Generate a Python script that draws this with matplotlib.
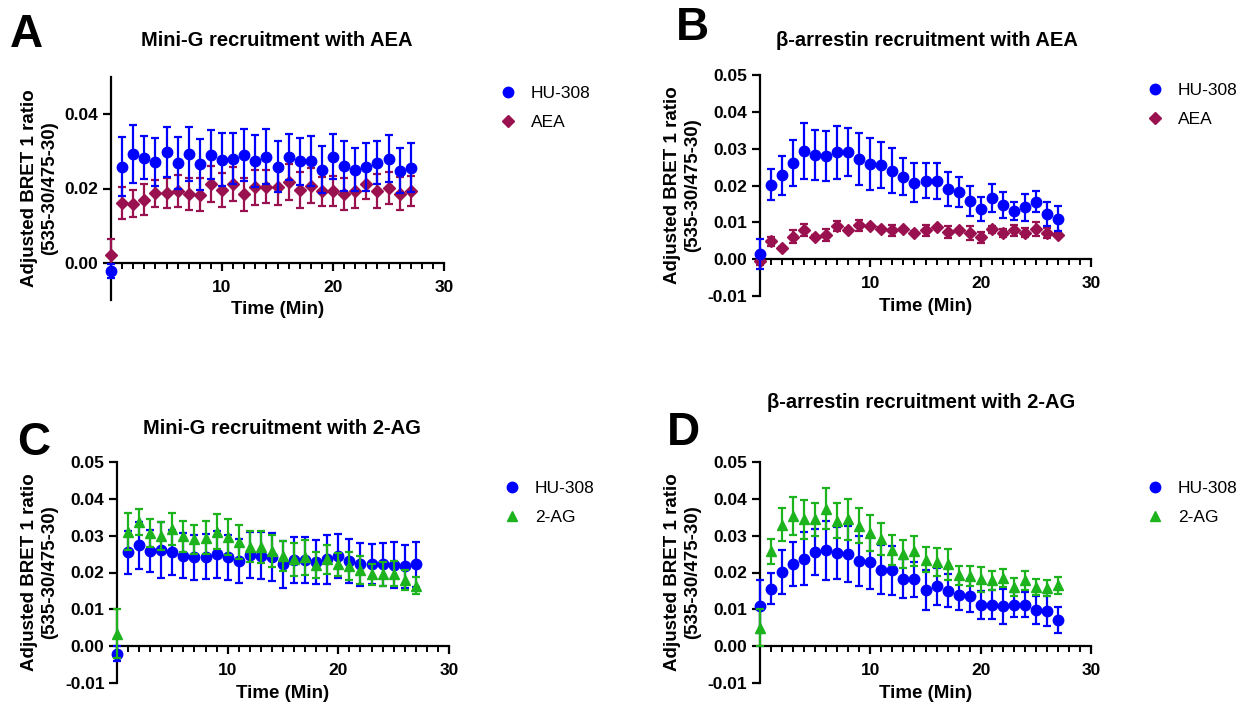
import matplotlib
matplotlib.use("Agg")
import matplotlib.pyplot as plt
from matplotlib.ticker import MultipleLocator, FixedLocator
import numpy as np

plt.rcParams['font.family'] = ['Liberation Sans', 'DejaVu Sans']

time_min = list(range(28))

# Panel A: Mini-G recruitment with AEA
a_hu_mean = [-0.0022, 0.0259, 0.0293, 0.0283, 0.0272, 0.0299, 0.0269, 0.0293, 0.0265, 0.0291, 0.0278, 0.0280, 0.0290, 0.0275,
             0.0286, 0.0259, 0.0284, 0.0273, 0.0274, 0.0251, 0.0286, 0.0261, 0.0251, 0.0257, 0.0269, 0.0280, 0.0248, 0.0256]
a_hu_err = [0.0020, 0.0080, 0.0079, 0.0057, 0.0065, 0.0067, 0.0070, 0.0072, 0.0068, 0.0066, 0.0071, 0.0068, 0.0069, 0.0070,
            0.0073, 0.0069, 0.0062, 0.0063, 0.0066, 0.0064, 0.0061, 0.0068, 0.0059, 0.0065, 0.0058, 0.0063, 0.0061, 0.0066]
a_aea_mean = [0.0020, 0.0161, 0.0159, 0.0170, 0.0187, 0.0188, 0.0193, 0.0186, 0.0183, 0.0213, 0.0195, 0.0212, 0.0184, 0.0203,
              0.0205, 0.0204, 0.0218, 0.0196, 0.0207, 0.0192, 0.0194, 0.0186, 0.0194, 0.0213, 0.0193, 0.0201, 0.0186, 0.0194]
a_aea_err = [0.0045, 0.0044, 0.0036, 0.0041, 0.0037, 0.0040, 0.0042, 0.0043, 0.0044, 0.0048, 0.0046, 0.0046, 0.0044, 0.0047,
             0.0044, 0.0049, 0.0048, 0.0048, 0.0047, 0.0040, 0.0040, 0.0043, 0.0047, 0.0040, 0.0045, 0.0044, 0.0044, 0.0040]

# Panel B: beta-arrestin recruitment with AEA
b_hu_mean = [0.0014, 0.0202, 0.0228, 0.0262, 0.0294, 0.0283, 0.0280, 0.0290, 0.0291, 0.0272, 0.0259, 0.0255, 0.0240, 0.0224,
             0.0208, 0.0213, 0.0213, 0.0190, 0.0182, 0.0158, 0.0137, 0.0166, 0.0147, 0.0131, 0.0141, 0.0156, 0.0123, 0.0110]
b_hu_err = [0.0042, 0.0042, 0.0053, 0.0062, 0.0077, 0.0069, 0.0069, 0.0071, 0.0064, 0.0071, 0.0070, 0.0062, 0.0061, 0.0051,
            0.0053, 0.0047, 0.0049, 0.0047, 0.0041, 0.0040, 0.0033, 0.0037, 0.0034, 0.0024, 0.0037, 0.0029, 0.0032, 0.0033]
b_aea_mean = [-0.0005, 0.0048, 0.0030, 0.0061, 0.0080, 0.0061, 0.0066, 0.0090, 0.0080, 0.0092, 0.0090, 0.0083, 0.0078, 0.0081,
              0.0072, 0.0078, 0.0086, 0.0074, 0.0078, 0.0071, 0.0059, 0.0081, 0.0071, 0.0078, 0.0072, 0.0082, 0.0071, 0.0066]
b_aea_err = [0.0010, 0.0013, 0.0004, 0.0018, 0.0016, 0.0004, 0.0016, 0.0014, 0.0004, 0.0015, 0.0004, 0.0004, 0.0014, 0.0004,
             0.0004, 0.0016, 0.0004, 0.0017, 0.0004, 0.0020, 0.0014, 0.0010, 0.0012, 0.0014, 0.0013, 0.0018, 0.0013, 0.0004]

# Panel C: Mini-G recruitment with 2-AG
c_hu_mean = [-0.0020, 0.0255, 0.0274, 0.0259, 0.0261, 0.0255, 0.0246, 0.0241, 0.0243, 0.0249, 0.0241, 0.0232, 0.0247, 0.0245,
             0.0241, 0.0222, 0.0234, 0.0234, 0.0229, 0.0236, 0.0245, 0.0232, 0.0222, 0.0223, 0.0222, 0.0220, 0.0217, 0.0222]
c_hu_err = [0.0020, 0.0058, 0.0064, 0.0057, 0.0076, 0.0061, 0.0061, 0.0061, 0.0061, 0.0065, 0.0061, 0.0060, 0.0063, 0.0064,
            0.0065, 0.0063, 0.0063, 0.0063, 0.0059, 0.0067, 0.0060, 0.0060, 0.0059, 0.0054, 0.0059, 0.0063, 0.0059, 0.0062]
c_ag_mean = [0.0034, 0.0311, 0.0338, 0.0308, 0.0299, 0.0318, 0.0299, 0.0290, 0.0295, 0.0311, 0.0297, 0.0284, 0.0270, 0.0270,
             0.0259, 0.0245, 0.0236, 0.0241, 0.0220, 0.0236, 0.0222, 0.0218, 0.0207, 0.0195, 0.0196, 0.0197, 0.0179, 0.0164]
c_ag_err = [0.0066, 0.0050, 0.0035, 0.0038, 0.0039, 0.0043, 0.0042, 0.0039, 0.0044, 0.0048, 0.0049, 0.0046, 0.0042, 0.0043,
            0.0044, 0.0040, 0.0045, 0.0047, 0.0035, 0.0039, 0.0032, 0.0038, 0.0039, 0.0029, 0.0033, 0.0035, 0.0027, 0.0023]

# Panel D: beta-arrestin recruitment with 2-AG
d_hu_mean = [0.0108, 0.0156, 0.0201, 0.0223, 0.0237, 0.0255, 0.0260, 0.0253, 0.0249, 0.0231, 0.0228, 0.0208, 0.0206, 0.0183,
             0.0181, 0.0153, 0.0163, 0.0151, 0.0140, 0.0137, 0.0111, 0.0113, 0.0108, 0.0113, 0.0113, 0.0097, 0.0095, 0.0071]
d_hu_err = [0.0071, 0.0042, 0.0060, 0.0061, 0.0072, 0.0063, 0.0080, 0.0071, 0.0076, 0.0068, 0.0072, 0.0066, 0.0066, 0.0053,
            0.0047, 0.0054, 0.0050, 0.0044, 0.0041, 0.0044, 0.0038, 0.0040, 0.0047, 0.0035, 0.0034, 0.0038, 0.0041, 0.0034]
d_ag_mean = [0.0050, 0.0258, 0.0330, 0.0353, 0.0344, 0.0344, 0.0373, 0.0341, 0.0344, 0.0327, 0.0307, 0.0291, 0.0262, 0.0250,
             0.0258, 0.0235, 0.0228, 0.0222, 0.0192, 0.0190, 0.0181, 0.0179, 0.0185, 0.0161, 0.0179, 0.0161, 0.0158, 0.0165]
d_ag_err = [0.0050, 0.0034, 0.0044, 0.0051, 0.0052, 0.0045, 0.0056, 0.0047, 0.0056, 0.0048, 0.0048, 0.0044, 0.0041, 0.0038,
            0.0041, 0.0034, 0.0038, 0.0042, 0.0026, 0.0028, 0.0033, 0.0026, 0.0025, 0.0024, 0.0026, 0.0022, 0.0022, 0.0024]

BLUE = '#0000FF'
PURPLE = '#9A1150'
GREEN = '#1DB31D'

W, H = 1253, 704
fig = plt.figure(figsize=(W / 100, H / 100), dpi=100)


def px_axes(x0, x1, y0, y1):
    return fig.add_axes([x0 / W, 1 - y1 / H, (x1 - x0) / W, (y1 - y0) / H])


def series(ax, mean, err, color, marker, ms, label, z):
    c = ax.errorbar(time_min, mean, yerr=err, fmt=marker, color=color, ms=ms, mec=color,
                    elinewidth=1.6, capsize=3.0, capthick=1.6, label=label, zorder=z)
    for art in c.get_children():
        art.set_clip_on(False)
    c.lines[0].set_clip_on(False)
    return c


def style(ax, ylabels_full):
    ax.set_xlim(0, 30)
    ax.set_ylim(-0.01, 0.05)
    for s in ['top', 'right']:
        ax.spines[s].set_visible(False)
    ax.spines['bottom'].set_position(('data', 0))
    for s in ['left', 'bottom']:
        ax.spines[s].set_linewidth(1.6)
    ax.xaxis.set_major_locator(FixedLocator([10, 20, 30]))
    ax.xaxis.set_minor_locator(MultipleLocator(1))
    if ylabels_full:
        yt = [-0.01, 0.0, 0.01, 0.02, 0.03, 0.04, 0.05]
    else:
        yt = [0.0, 0.02, 0.04]
    ax.set_yticks(yt)
    ax.set_yticklabels([f'{v:.2f}' for v in yt])
    ax.tick_params(axis='both', which='major', length=6, width=1.6, labelsize=12.5, pad=3)
    ax.tick_params(axis='x', which='major', pad=6)
    ax.tick_params(axis='x', which='minor', length=4, width=1.4)
    for lab in ax.get_xticklabels() + ax.get_yticklabels():
        lab.set_fontweight('bold')
    ax.set_xlabel('Time (Min)', fontsize=13.5, fontweight='bold', labelpad=5)
    ax.set_ylabel('Adjusted BRET 1 ratio\n(535-30/475-30)', fontsize=13.5, fontweight='bold', labelpad=5)


def put_legend(ax, x, y, reverse):
    h, l = ax.get_legend_handles_labels()
    if reverse:
        h, l = h[::-1], l[::-1]
    h = [hh[0] for hh in h]
    ax.legend(h, l, loc='upper left', bbox_to_anchor=(x / W, 1 - y / H), bbox_transform=fig.transFigure,
              frameon=False, fontsize=12.5, handlelength=1.0, handletextpad=0.85, labelspacing=0.78,
              borderpad=0, borderaxespad=0)


# Panel A
axA = px_axes(111, 444, 77, 300)
series(axA, a_aea_mean, a_aea_err, PURPLE, 'D', 6, 'AEA', 3)
series(axA, a_hu_mean, a_hu_err, BLUE, 'o', 7.5, 'HU-308', 4)
style(axA, False)
# Panel B
axB = px_axes(760, 1091, 75, 296)
series(axB, b_aea_mean, b_aea_err, PURPLE, 'D', 6, 'AEA', 3)
series(axB, b_hu_mean, b_hu_err, BLUE, 'o', 7.5, 'HU-308', 4)
style(axB, True)
# Panel C
axC = px_axes(117, 449, 462, 683)
series(axC, c_hu_mean, c_hu_err, BLUE, 'o', 7.5, 'HU-308', 3)
series(axC, c_ag_mean, c_ag_err, GREEN, '^', 7.5, '2-AG', 4)
style(axC, True)
# Panel D
axD = px_axes(760, 1091, 462, 683)
series(axD, d_hu_mean, d_hu_err, BLUE, 'o', 7.5, 'HU-308', 3)
series(axD, d_ag_mean, d_ag_err, GREEN, '^', 7.5, '2-AG', 4)
style(axD, True)

put_legend(axA, 499, 86, True)
put_legend(axB, 1146, 83, True)
put_legend(axC, 503, 481, False)
put_legend(axD, 1146, 481, False)

# Titles
fig.text(277 / W, 1 - 41 / H, 'Mini-G recruitment with AEA', ha='center', va='center', fontsize=14.5, fontweight='bold')
fig.text(927 / W, 1 - 40 / H, 'β-arrestin recruitment with AEA', ha='center', va='center', fontsize=14.5, fontweight='bold')
fig.text(282 / W, 1 - 428 / H, 'Mini-G recruitment with 2-AG', ha='center', va='center', fontsize=14.5, fontweight='bold')
fig.text(921 / W, 1 - 402 / H, 'β-arrestin recruitment with 2-AG', ha='center', va='center', fontsize=14.5, fontweight='bold')

# Panel letters
for letter, x, y in [('A', 10, 47), ('B', 676, 40), ('C', 17, 455), ('D', 667, 445)]:
    fig.text(x / W, 1 - y / H, letter, ha='left', va='baseline', fontsize=33, fontweight='bold')

fig.savefig('out.png', dpi=100)
